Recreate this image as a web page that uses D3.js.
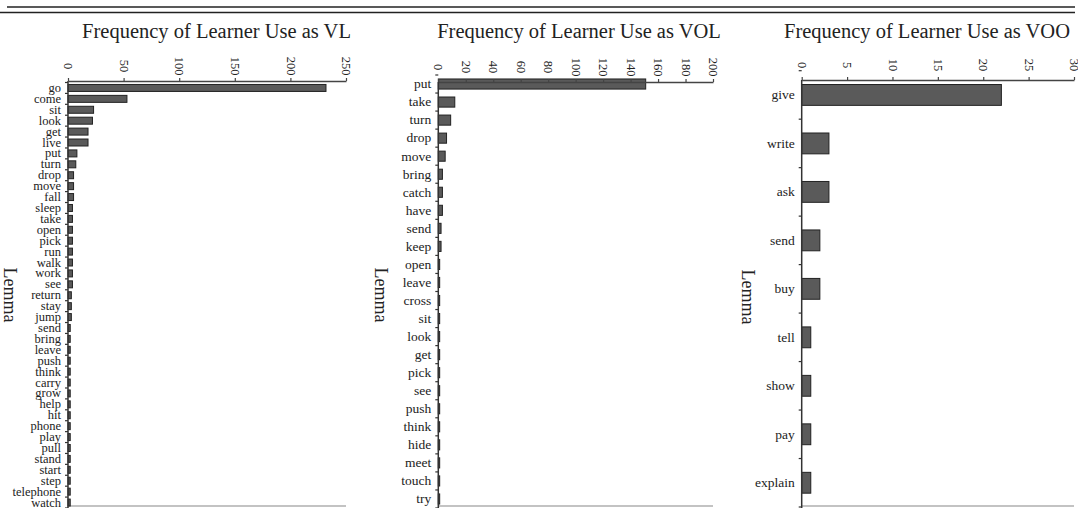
<!DOCTYPE html>
<html>
<head>
<meta charset="utf-8">
<script src="https://cdn.jsdelivr.net/npm/d3@7"></script>
<style>
  html, body { margin: 0; padding: 0; background: #fff; }
  svg { display: block; font-family: "Liberation Serif", "Times New Roman", serif; }
</style>
</head>
<body>
<svg id="chart" width="1078" height="508"></svg>
<script>
// ---- Data ----
const vlLemmas = ["go","come","sit","look","get","live","put","turn","drop","move","fall","sleep","take","open","pick","run","walk","work","see","return","stay","jump","send","bring","leave","push","think","carry","grow","help","hit","phone","play","pull","stand","start","step","telephone","watch"];
const vlValues = [232,53,23,22,18,18,8,7,5,5,5,4,4,4,4,4,4,4,4,3,3,3,2,2,2,2,2,2,2,2,2,2,2,2,2,2,2,2,2];
const vlTicks = [0,50,100,150,200,250];

const volLemmas = ["put","take","turn","drop","move","bring","catch","have","send","keep","open","leave","cross","sit","look","get","pick","see","push","think","hide","meet","touch","try"];
const volValues = [151,12,9,6,5,3,3,3,2,2,1,1,1,1,1,1,1,1,1,1,1,1,1,1];
const volTicks = [0,20,40,60,80,100,120,140,160,180,200];

const vooLemmas = ["give","write","ask","send","buy","tell","show","pay","explain"];
const vooValues = [22,3,3,2,2,1,1,1,1];
const vooTicks = [0,5,10,15,20,25,30];

const titles = ["Frequency of Learner Use as VL","Frequency of Learner Use as VOL","Frequency of Learner Use as VOO"];
const yAxisLabel = "Lemma";

// ---- Drawing ----
const svg = d3.select("#chart");
const ink = "#222";

// double rule at top
svg.append("line").attr("x1",7).attr("x2",1075).attr("y1",7).attr("y2",7)
  .attr("stroke","#222").attr("stroke-width",1.6);
svg.append("line").attr("x1",0).attr("x2",1075).attr("y1",12.5).attr("y2",12.5)
  .attr("stroke","#222").attr("stroke-width",1.6);

function drawPanel(p) {
  const g = svg.append("g");
  const x = d3.scaleLinear().domain([0, p.max]).range([p.x0, p.x1]);
  const y = d3.scaleBand().domain(p.cats).range([p.y0, p.y1]).padding(0);
  const bw = y.bandwidth();
  const bh = bw * p.barRatio;

  // title
  g.append("text").attr("x", p.titleX).attr("y", 38)
    .attr("text-anchor","middle").attr("font-size","20.5px").attr("fill", ink)
    .text(p.title);

  // y label
  g.append("text").attr("transform", `translate(${p.labelX},${p.labelY}) rotate(90)`)
    .attr("text-anchor","middle").attr("dy","0.35em").attr("font-size","18px").attr("fill", ink)
    .text(yAxisLabel);

  // bottom line
  g.append("line").attr("x1", p.x0).attr("x2", p.x1).attr("y1", 506).attr("y2", 506)
    .attr("stroke","#888").attr("stroke-width",1.2);

  // bars
  g.append("g").selectAll("rect").data(p.cats).join("rect")
    .attr("x", x(0))
    .attr("y", (d) => y(d) + (bw - bh) / 2)
    .attr("width", (d, i) => x(p.vals[i]) - x(0))
    .attr("height", bh)
    .attr("fill", "#5a5a5a")
    .attr("stroke", "#222")
    .attr("stroke-width", 1);

  // top axis
  const ax = g.append("g").attr("transform", `translate(0,${p.axisY})`)
    .call(d3.axisTop(x).tickValues(p.ticks).tickSize(3).tickSizeOuter(0));
  ax.select(".domain").attr("stroke", "#444").attr("stroke-width", 1.5);
  ax.selectAll(".tick line").attr("stroke", "#444").attr("stroke-width", 1.2);
  ax.selectAll(".tick text")
    .attr("y", 0).attr("dy", "0.35em")
    .attr("transform", "translate(0,-15) rotate(90)")
    .attr("text-anchor", "middle")
    .attr("font-size", "12.5px")
    .attr("font-family", "Liberation Serif, serif")
    .attr("fill", ink);

  // left axis: labels at band centers, ticks at band boundaries
  const ay = g.append("g").attr("transform", `translate(${p.x0},0)`)
    .call(d3.axisLeft(y).tickSize(0).tickPadding(7));
  ay.select(".domain").remove();
  ay.selectAll(".tick text")
    .attr("font-size", p.labelSize)
    .attr("font-family", "Liberation Serif, serif")
    .attr("fill", ink);

  const bounds = d3.range(p.cats.length + 1).map((i) => p.y0 + i * y.step());
  g.append("g").selectAll("line").data(bounds).join("line")
    .attr("x1", p.x0 - 3).attr("x2", p.x0)
    .attr("y1", (d) => d).attr("y2", (d) => d)
    .attr("stroke", "#333").attr("stroke-width", 1.2);
  g.append("line").attr("x1", p.x0).attr("x2", p.x0)
    .attr("y1", p.axisY).attr("y2", 508)
    .attr("stroke", "#333").attr("stroke-width", 1.5);
}

drawPanel({ cats: vlLemmas, vals: vlValues, ticks: vlTicks, max: 250, title: titles[0],
  x0: 68, x1: 346, y0: 82.5, y1: 508, axisY: 81, barRatio: 0.64, labelSize: "12.5px",
  titleX: 216.5, labelX: 10, labelY: 295 });
drawPanel({ cats: volLemmas, vals: volValues, ticks: volTicks, max: 200, title: titles[1],
  x0: 438.3, x1: 713, y0: 75, y1: 508, axisY: 82, barRatio: 0.56, labelSize: "13.5px",
  titleX: 579, labelX: 381, labelY: 295 });
drawPanel({ cats: vooLemmas, vals: vooValues, ticks: vooTicks, max: 30, title: titles[2],
  x0: 801.7, x1: 1074, y0: 70.7, y1: 507, axisY: 80, barRatio: 0.43, labelSize: "13.5px",
  titleX: 927, labelX: 748, labelY: 297 });
</script>
</body>
</html>
